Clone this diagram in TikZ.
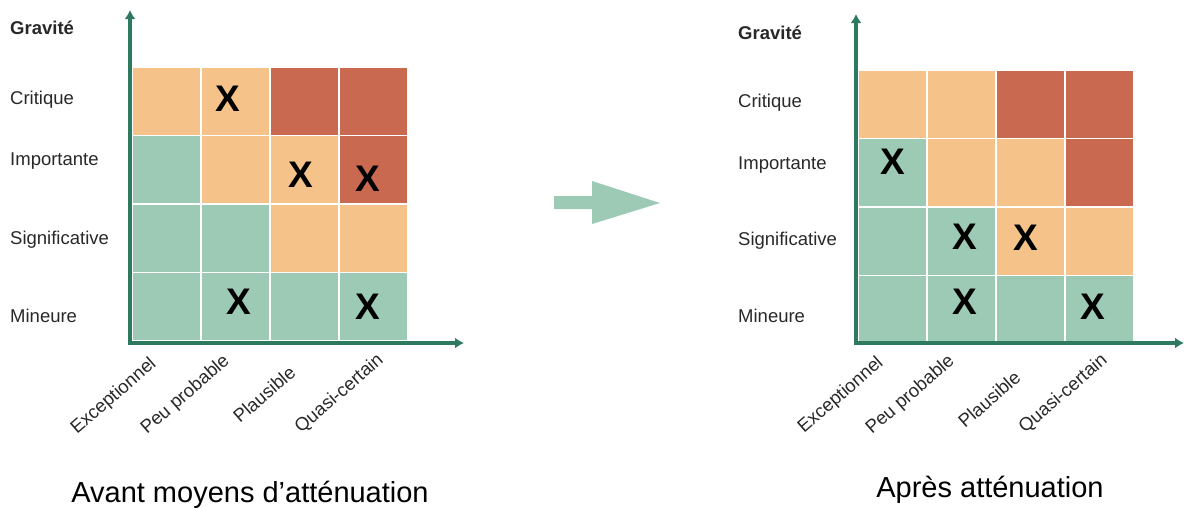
\documentclass[tikz,border=0pt]{standalone}
\usepackage{fontspec}
\setmainfont{Liberation Sans}
\usetikzlibrary{positioning, arrows.meta, calc}
\usepackage{xcolor}
\definecolor{riskorange}{RGB}{245,195,137}
\definecolor{riskred}{RGB}{201,106,80}
\definecolor{riskgreen}{RGB}{157,202,181}
\definecolor{axisgreen}{RGB}{46,122,94}
\definecolor{labelgray}{RGB}{40,40,40}

\begin{document}
\begin{tikzpicture}[
    x=1pt, y=-1pt,
    cell/.style={draw=white, line width=1.5pt, minimum width=69pt, minimum height=68.5pt, inner sep=0pt},
    xmark/.style={inner sep=0pt, font=\fontsize{37}{37}\selectfont\bfseries},
    rowlabel/.style={anchor=base west, inner sep=0pt, text=labelgray, font=\fontsize{18.5}{22}\selectfont},
    gravlabel/.style={anchor=base west, inner sep=0pt, text=labelgray, font=\fontsize{18.5}{22}\selectfont\bfseries},
    problabel/.style={anchor=base west, rotate=41, inner sep=0pt, text=labelgray, font=\fontsize{18.5}{22}\selectfont},
    caption/.style={anchor=base, inner sep=0pt, font=\fontsize{29}{34}\selectfont},
    axis/.style={draw=axisgreen, line width=3.5pt, -{Latex[length=9pt, width=11pt]}}
]
\useasboundingbox (0,0) rectangle (1184,507);

% Grids
\foreach \g/\gx/\gy in {L/132/67, R/858/70}{
  \foreach \c [count=\i from 0] in {riskorange,riskorange,riskred,riskred,riskgreen,riskorange,riskorange,riskred,riskgreen,riskgreen,riskorange,riskorange,riskgreen,riskgreen,riskgreen,riskgreen}{
    \pgfmathtruncatemacro\row{\i/4}
    \pgfmathtruncatemacro\col{\i-4*\row}
    \node[cell, fill=\c] (\g-\row-\col) at ({\gx+69*\col+34.5},{\gy+68.5*\row+34.25}) {};
  }
}

% Marks
\node[xmark] (L-x1) at (228,99) {X};
\node[xmark] (L-x2) at (301,175) {X};
\node[xmark] (L-x3) at (368,179) {X};
\node[xmark] (L-x4) at (239,302) {X};
\node[xmark] (L-x5) at (368,307) {X};
\node[xmark] (R-x1) at (893,162) {X};
\node[xmark] (R-x2) at (965,237) {X};
\node[xmark] (R-x3) at (1026,238) {X};
\node[xmark] (R-x4) at (965,302) {X};
\node[xmark] (R-x5) at (1093,307) {X};

% Axes
\coordinate (L-orig) at (128,343);
\coordinate (L-ytop) at (130,10);
\coordinate (L-xend) at (464,343);
\coordinate (R-orig) at (854,343);
\coordinate (R-ytop) at (856,14);
\coordinate (R-xend) at (1184,343);
\draw[axis] (L-orig -| L-ytop) -- (L-ytop);
\draw[axis] (L-orig) -- (L-xend);
\draw[axis] (R-orig -| R-ytop) -- (R-ytop);
\draw[axis] (R-orig) -- (R-xend);

% Gravity labels
\node[gravlabel] (L-grav) at (10,34) {Gravité};
\node[rowlabel] (L-crit) at (10,104) {Critique};
\node[rowlabel] (L-imp) at (10,165) {Importante};
\node[rowlabel] (L-sig) at (10,244) {Significative};
\node[rowlabel] (L-min) at (10,322) {Mineure};
\node[gravlabel] (R-grav) at (738,39) {Gravité};
\node[rowlabel] (R-crit) at (738,107) {Critique};
\node[rowlabel] (R-imp) at (738,169) {Importante};
\node[rowlabel] (R-sig) at (738,245) {Significative};
\node[rowlabel] (R-min) at (738,322) {Mineure};

% Likelihood labels
\node[problabel] (L-exc) at (77,435) {Exceptionnel};
\node[problabel] (L-peu) at (147,435) {Peu probable};
\node[problabel] (L-pla) at (240,424) {Plausible};
\node[problabel] (L-qua) at (301,434) {Quasi-certain};
\node[problabel] (R-exc) at (804,434) {Exceptionnel};
\node[problabel] (R-peu) at (872,435) {Peu probable};
\node[problabel] (R-pla) at (965,429) {Plausible};
\node[problabel] (R-qua) at (1025,434) {Quasi-certain};

% Captions
\node[caption] (L-cap) at (250,502) {Avant moyens d’atténuation};
\node[caption] (R-cap) at (990,497) {Après atténuation};

% Arrow between the grids
\fill[riskgreen] (554,196) -- (592,196) -- (592,181) -- (660,203) -- (592,224) -- (592,209) -- (554,209) -- cycle;

\end{tikzpicture}
\end{document}
